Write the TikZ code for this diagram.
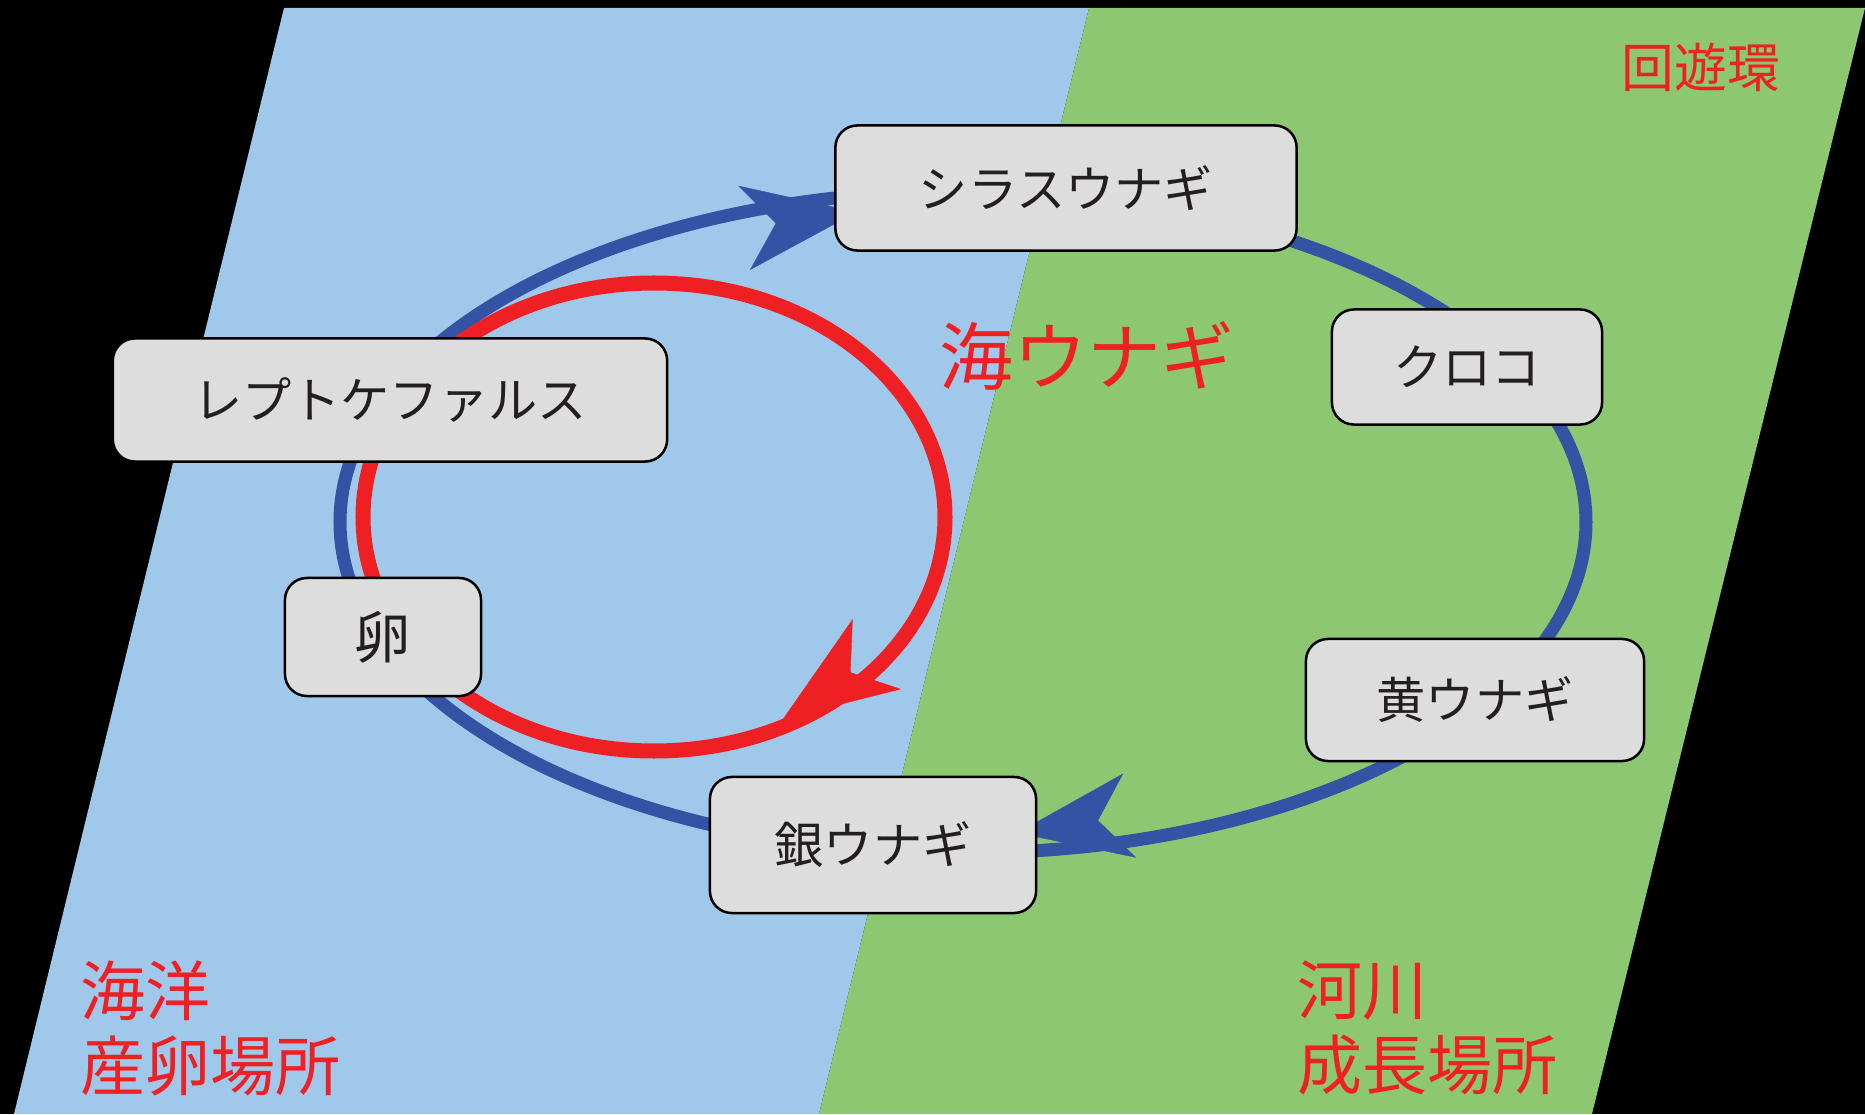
\documentclass[tikz,border=0pt]{standalone}
\usepackage{fontspec}
\setmainfont{Noto Sans CJK JP}
\usetikzlibrary{arrows.meta,calc}
\pgfdeclarelayer{bg}
\pgfdeclarelayer{lines}
\pgfsetlayers{bg,lines,main}
\definecolor{sea}{HTML}{A0C8EA}
\definecolor{river}{HTML}{8DC771}
\definecolor{boxgray}{HTML}{DDDDDD}
\definecolor{cycleblue}{HTML}{3453A5}
\definecolor{labelred}{HTML}{EE2024}
\definecolor{ink}{HTML}{231F20}
\begin{document}
\begin{tikzpicture}[x=0.01cm,y=0.01cm,
  stage/.style={draw=black, line width=0.25mm, fill=boxgray, rounded corners=0.22cm,
    text=ink, inner sep=0pt, font=\fontsize{14pt}{16pt}\selectfont},
  blueline/.style={draw=cycleblue, line width=0.13cm},
  redline/.style={draw=labelred, line width=0.15cm},
  bighead/.style={line width=0.1pt, -{Stealth[length=1.14cm,width=0.85cm,inset=0.32cm]}},
  region/.style={text=labelred, inner sep=0pt, align=left, anchor=west,
    font=\fontsize{18.5pt}{21.3pt}\selectfont}]
\useasboundingbox (0,0) rectangle (1865,1114);
\begin{pgfonlayer}{bg}
  \fill[black] (0,0) rectangle (1865,1114);
  \fill[sea] (284,1106) -- (1089,1106) -- (819,0) -- (14,0) -- cycle;
  \fill[river] (1089,1106) -- (1865,1106) -- (1592,0) -- (819,0) -- cycle;
\end{pgfonlayer}

\node[stage, minimum width=4.61cm, minimum height=1.25cm] (glass) at (1066,926) {シラスウナギ};
\node[stage, minimum width=2.70cm, minimum height=1.15cm] (kuroko) at (1467,747) {クロコ};
\node[stage, minimum width=5.54cm, minimum height=1.23cm] (lepto) at (390,714) {レプトケファルス};
\node[stage, minimum width=1.96cm, minimum height=1.18cm, font=\fontsize{16pt}{18pt}\selectfont] (egg) at (383,477) {卵};
\node[stage, minimum width=3.38cm, minimum height=1.22cm] (yellow) at (1475,414) {黄ウナギ};
\node[stage, minimum width=3.26cm, minimum height=1.36cm] (silver) at (873,269) {銀ウナギ};

\node[text=labelred, inner sep=0pt, font=\fontsize{21pt}{24pt}\selectfont] (marine) at (1087,758) {海ウナギ};
\node[text=labelred, inner sep=0pt, font=\fontsize{15pt}{18pt}\selectfont] (title) at (1701,1047) {回遊環};
\node[region] (ocean) at (80,86) {海洋\\産卵場所};
\node[region] (river) at (1297,86) {河川\\成長場所};

% arrowhead anchors: back of head and tip
\coordinate (glassback) at (743,886);
\coordinate (glasstip) at (857,902);
\coordinate (silverback) at (1127,298);
\coordinate (silvertip) at (1017,281);
\coordinate (seaback) at (877,460);
\coordinate (seatip) at (783,395);

\begin{pgfonlayer}{lines}
  \draw[blueline] (963,592) ellipse[x radius=623, y radius=331];
  \draw[cycleblue, bighead] ($(glasstip)!0.8cm!(glassback)$) -- (glasstip);
  \draw[cycleblue, bighead] ($(silvertip)!0.8cm!(silverback)$) -- (silvertip);
  \draw[redline] (654,597) ellipse[x radius=291, y radius=234];
  \draw[labelred, bighead] ($(seatip)!0.8cm!(seaback)$) -- (seatip);
\end{pgfonlayer}
\end{tikzpicture}
\end{document}
